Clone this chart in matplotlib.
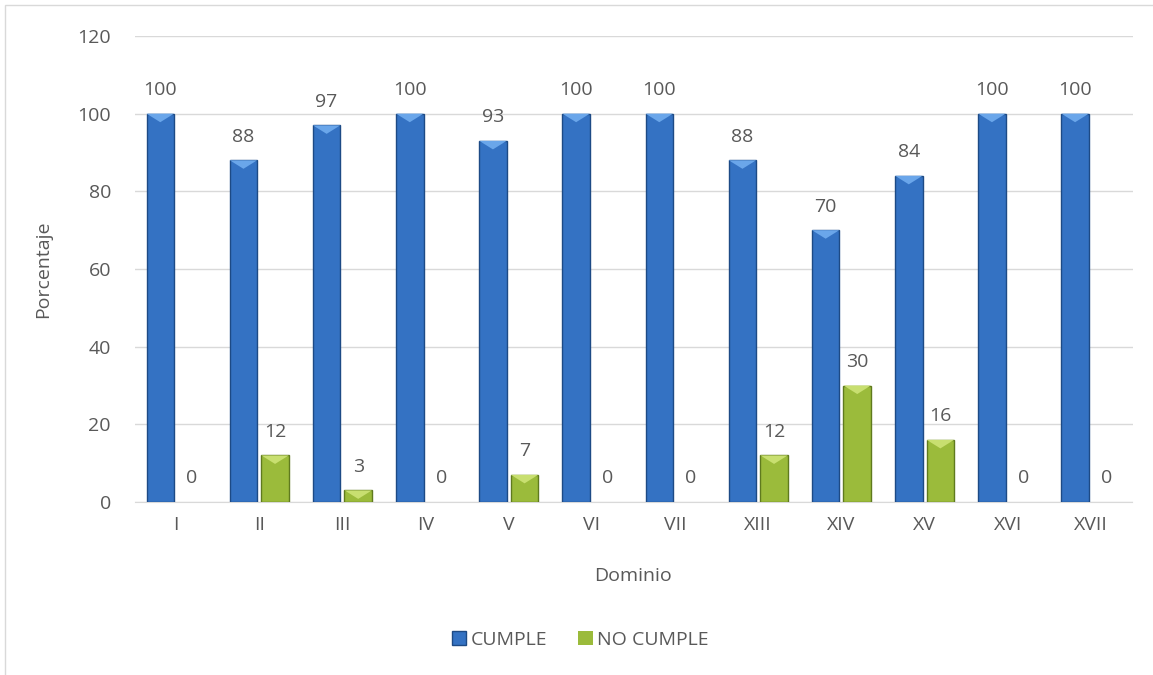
import numpy as np
import matplotlib.pyplot as plt
from matplotlib.patches import Polygon, Rectangle

dominios = ['I', 'II', 'III', 'IV', 'V', 'VI', 'VII', 'XIII', 'XIV', 'XV', 'XVI', 'XVII']
cumple = [100, 88, 97, 100, 93, 100, 100, 88, 70, 84, 100, 100]
no_cumple = [0, 12, 3, 0, 7, 0, 0, 12, 30, 16, 0, 0]

txt = '#595959'
fs = 14
plt.rcParams['font.family'] = ['Open Sans', 'DejaVu Sans']

fig = plt.figure(figsize=(11.53, 6.75), dpi=100)
# marco del grafico
fig.patches.append(Rectangle((5 / 1153, -0.01), 1.0, 1 - 5 / 675 + 0.01, transform=fig.transFigure,
                             fill=False, edgecolor='#d9d9d9', linewidth=1))
ax = fig.add_axes([134.5 / 1153, 1 - 502 / 675, 998 / 1153, 466 / 675])

x = np.arange(len(dominios))
w = 0.33
off = 0.19


def bevel_bars(xs, vals, face, edge, light):
    bars = ax.bar(xs, vals, width=w, color=face, edgecolor=edge, linewidth=1.0, zorder=3)
    for b in bars:
        x0, y0 = b.get_x(), b.get_y()
        bw, bh = b.get_width(), b.get_height()
        if bh > 0:
            # pequeño bisel en la parte superior
            d = min(2.2, bh)
            tri = Polygon([(x0, y0 + bh), (x0 + bw, y0 + bh), (x0 + bw / 2, y0 + bh - d)],
                          closed=True, facecolor=light, edgecolor='none', zorder=4)
            ax.add_patch(tri)
        else:
            b.set_linewidth(0)
        ax.annotate(f'{int(bh)}', (x0 + bw / 2, y0 + bh), xytext=(0, 17),
                    textcoords='offset points', ha='center', va='center', fontsize=fs, color=txt)
    return bars


b1 = bevel_bars(x - off, cumple, '#3472c3', '#1d4a85', '#6aa6ea')
b2 = bevel_bars(x + off, no_cumple, '#9bbb3b', '#5f7a1e', '#c8df70')

ax.set_xlim(-0.5, len(dominios) - 0.5)
ax.set_ylim(0, 120)
ax.set_yticks(np.arange(0, 121, 20))
ax.set_xticks(x)
ax.set_xticklabels(dominios)
ax.grid(axis='y', color='#d9d9d9', linewidth=1, zorder=0)
ax.set_axisbelow(True)
for s in ['top', 'right', 'left']:
    ax.spines[s].set_visible(False)
ax.spines['bottom'].set_color('#d9d9d9')
ax.tick_params(axis='both', length=0, labelsize=fs, labelcolor=txt)
ax.tick_params(axis='y', pad=17)
ax.tick_params(axis='x', pad=10)

ax.set_ylabel('Porcentaje', fontsize=fs, color=txt, labelpad=18)
ax.set_xlabel('Dominio', fontsize=fs, color=txt, labelpad=24)

leg = fig.legend([b1, b2], ['CUMPLE', 'NO CUMPLE'], loc='center', bbox_to_anchor=(580 / 1153, 1 - 640 / 675),
                 ncol=2, frameon=False, fontsize=fs, handlelength=0.75, handleheight=0.75,
                 columnspacing=1.6, handletextpad=0.2, labelcolor=txt)

fig.savefig('out.png', dpi=100)
